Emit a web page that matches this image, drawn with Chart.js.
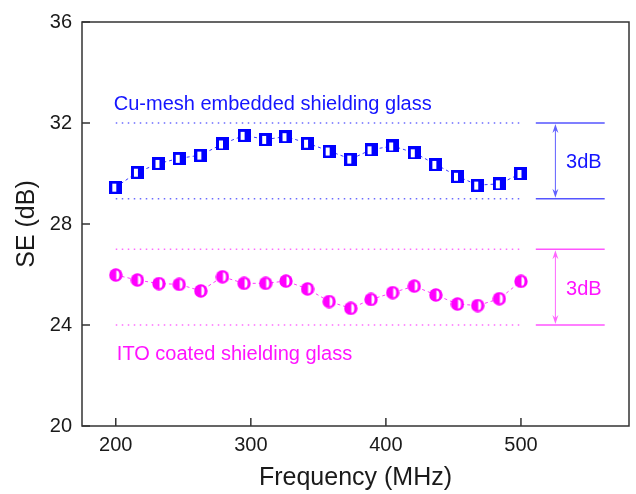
<!DOCTYPE html>
<html>
<head>
<meta charset="utf-8">
<script src="https://cdn.jsdelivr.net/npm/chart.js@4.4.0/dist/chart.umd.min.js"></script>
<style>
	body { margin: 0; background: #fff; }
</style>
</head>
<body>
<canvas id="chart" width="636" height="494"></canvas>
<script>
// frequency points (MHz) and shielding effectiveness (dB)
var freq = [200, 216, 232, 247, 263, 279, 295, 311, 326, 342, 358, 374, 389, 405, 421, 437, 453, 468, 484, 500];
var cuMesh = [29.46, 30.05, 30.40, 30.60, 30.73, 31.17, 31.51, 31.35, 31.46, 31.20, 30.89, 30.57, 30.94, 31.09, 30.82, 30.36, 29.89, 29.54, 29.59, 30.00];
var ito = [25.98, 25.78, 25.64, 25.61, 25.35, 25.91, 25.65, 25.65, 25.74, 25.43, 24.93, 24.66, 25.01, 25.28, 25.54, 25.19, 24.83, 24.77, 25.04, 25.73];
var xTicks = [200, 300, 400, 500];
var yTicks = [20, 24, 28, 32, 36];
var cuBand = [29, 32];
var itoBand = [24, 27];
var bandSpan = [200, 500];
var braceSpan = [511, 562];
var arrowX = 525.5;

var BLUE = "#0000ff";
var PINK = "#ff00ff";

var makeSquare = () => {
	var c = document.createElement("canvas");
	c.width = 13; c.height = 13;
	var g = c.getContext("2d");
	g.fillStyle = BLUE;
	g.fillRect(0, 0, 13, 13);
	g.fillStyle = "#fff";
	g.fillRect(3, 3, 4, 8);
	return c;
};

var makeCircle = () => {
	var c = document.createElement("canvas");
	c.width = 14; c.height = 14;
	var g = c.getContext("2d");
	g.fillStyle = PINK;
	g.beginPath();
	g.arc(7, 7, 6.7, 0, Math.PI * 2);
	g.fill();
	g.fillStyle = "#fff";
	g.beginPath();
	g.moveTo(7.5, 2.5);
	g.ellipse(7.5, 7, 3, 4.5, 0, -Math.PI / 2, Math.PI / 2);
	g.closePath();
	g.fill();
	return c;
};

var pts = (ys) => freq.map((f, i) => ({x: f, y: ys[i]}));
var hline = (x0, x1, y) => [{x: x0, y: y}, {x: x1, y: y}];

var dotted = (y, color) => ({
	data: hline(bandSpan[0], bandSpan[1], y),
	showLine: true,
	borderColor: color,
	borderWidth: 1.5,
	borderDash: [1.5, 4.5],
	pointRadius: 0
});
var solid = (y, color) => ({
	data: hline(braceSpan[0], braceSpan[1], y),
	showLine: true,
	borderColor: color,
	borderWidth: 1.5,
	pointRadius: 0
});

// frame, inward ticks, arrows and labels
var decor = {
	id: "decor",
	afterDraw: (chart) => {
		var ctx = chart.ctx;
		var a = chart.chartArea;
		var xs = chart.scales.x, ys = chart.scales.y;
		ctx.save();
		ctx.strokeStyle = "#333";
		ctx.lineWidth = 1.5;
		ctx.strokeRect(a.left, a.top, a.right - a.left, a.bottom - a.top);
		ctx.beginPath();
		yTicks.forEach((v) => {
			var py = ys.getPixelForValue(v);
			ctx.moveTo(a.left, py); ctx.lineTo(a.left + 8, py);
		});
		xTicks.forEach((v) => {
			var px = xs.getPixelForValue(v);
			ctx.moveTo(px, a.bottom); ctx.lineTo(px, a.bottom - 8);
		});
		ctx.stroke();

		var arrow = (band, color) => {
			var px = xs.getPixelForValue(arrowX);
			var y0 = ys.getPixelForValue(band[1]), y1 = ys.getPixelForValue(band[0]);
			ctx.strokeStyle = color; ctx.fillStyle = color; ctx.lineWidth = 1;
			ctx.beginPath(); ctx.moveTo(px, y0 + 4); ctx.lineTo(px, y1 - 4); ctx.stroke();
			ctx.beginPath(); ctx.moveTo(px, y0 + 1); ctx.lineTo(px - 3, y0 + 10); ctx.lineTo(px, y0 + 7); ctx.lineTo(px + 3, y0 + 10); ctx.closePath(); ctx.fill();
			ctx.beginPath(); ctx.moveTo(px, y1 - 1); ctx.lineTo(px - 3, y1 - 10); ctx.lineTo(px, y1 - 7); ctx.lineTo(px + 3, y1 - 10); ctx.closePath(); ctx.fill();
		};
		arrow(cuBand, "#6060ff");
		arrow(itoBand, "#ff66ff");

		ctx.font = "20px 'Liberation Sans', Arial, sans-serif";
		ctx.textBaseline = "alphabetic";
		ctx.textAlign = "left";
		ctx.fillStyle = "#1414ff";
		ctx.fillText("Cu-mesh embedded shielding glass", xs.getPixelForValue(198.5), ys.getPixelForValue(32.5));
		ctx.fillStyle = "#ff14ff";
		ctx.fillText("ITO coated shielding glass", xs.getPixelForValue(200.8), ys.getPixelForValue(22.6));
		ctx.textBaseline = "middle";
		ctx.fillStyle = "#1414ff";
		ctx.fillText("3dB", xs.getPixelForValue(533.4), ys.getPixelForValue(30.45));
		ctx.fillStyle = "#ff14ff";
		ctx.fillText("3dB", xs.getPixelForValue(533.4), ys.getPixelForValue(25.4));
		ctx.restore();
	}
};

Chart.defaults.font.family = "'Liberation Sans', Arial, sans-serif";
Chart.defaults.color = "#1a1a1a";

var chart = new Chart(document.getElementById("chart").getContext("2d"), {
	type: "scatter",
	data: {
		datasets: [
			{
				label: "Cu-mesh embedded shielding glass",
				data: pts(cuMesh),
				showLine: true,
				borderColor: "#3a3aff",
				borderWidth: 1,
				borderDash: [3, 3],
				pointStyle: makeSquare(),
				pointRadius: 6
			},
			{
				label: "ITO coated shielding glass",
				data: pts(ito),
				showLine: true,
				borderColor: "#ff3aff",
				borderWidth: 1,
				borderDash: [3, 3],
				pointStyle: makeCircle(),
				pointRadius: 6
			},
			dotted(cuBand[1], "#6b6bff"),
			dotted(cuBand[0], "#6b6bff"),
			dotted(itoBand[1], "#ff6bff"),
			dotted(itoBand[0], "#ff6bff"),
			solid(cuBand[1], "#5555ff"),
			solid(cuBand[0], "#5555ff"),
			solid(itoBand[1], "#ff55ff"),
			solid(itoBand[0], "#ff55ff")
		]
	},
	options: {
		responsive: false,
		animation: false,
		layout: { padding: { top: 20, right: 5, left: 0, bottom: 0 } },
		plugins: { legend: { display: false }, tooltip: { enabled: false } },
		scales: {
			x: {
				type: "linear",
				min: 175,
				max: 580,
				grid: { display: false, drawTicks: false },
				border: { display: false },
				afterBuildTicks: (s) => { s.ticks = xTicks.map((v) => ({value: v})); },
				afterFit: (s) => { s.height = 68; },
				ticks: { font: { size: 20 }, padding: 7 },
				title: { display: true, text: "Frequency (MHz)", font: { size: 25 }, padding: { top: 0, bottom: 1 } }
			},
			y: {
				type: "linear",
				min: 20,
				max: 36,
				grid: { display: false, drawTicks: false },
				border: { display: false },
				afterBuildTicks: (s) => { s.ticks = yTicks.map((v) => ({value: v})); },
				afterFit: (s) => { s.width = 82; },
				ticks: { font: { size: 20 }, padding: 10 },
				title: { display: true, text: "SE (dB)", font: { size: 25 }, padding: { top: 12, bottom: 0 } }
			}
		}
	},
	plugins: [decor]
});
</script>
</body>
</html>
